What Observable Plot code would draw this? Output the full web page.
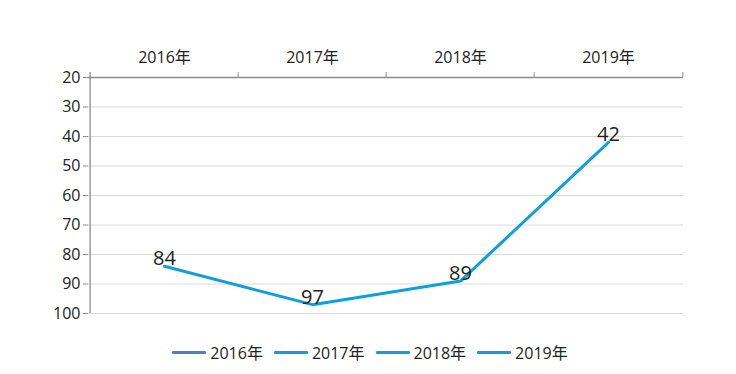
<!DOCTYPE html>
<html>
<head>
<meta charset="utf-8">
<script src="https://cdn.jsdelivr.net/npm/d3@7"></script>
<script src="https://cdn.jsdelivr.net/npm/@observablehq/plot@0.6"></script>
<style>
  body { margin: 0; background: #fff; font-family: "Open Sans", "Noto Sans CJK SC", sans-serif; }
  #chart svg { display: block; }
  .legend { display: flex; justify-content: center; align-items: center; gap: 11px; height: 44px; padding-left: 4px; box-sizing: border-box; font-size: 16px; color: #222; font-family: "Open Sans", "Noto Sans CJK SC", sans-serif; }
  .legend .item { display: flex; align-items: center; gap: 4px; }
  .legend .sw { width: 34px; height: 3px; border-radius: 1px; }
</style>
</head>
<body>
<div id="chart"></div>
<div class="legend" id="legend"></div>
<script>
const categories = ["2016年", "2017年", "2018年", "2019年"];
const values = [84, 97, 89, 42];
const yTicks = [20, 30, 40, 50, 60, 70, 80, 90, 100];
const legendLabels = ["2016年", "2017年", "2018年", "2019年"];
const legendColors = ["#4f7fc1", "#0fa0dc", "#0fa0dc", "#0fa0dc"];

const data = categories.map((c, i) => ({cat: c, value: values[i]}));

const W = 736, H = 330, mL = 88, mR = 53, mT = 77, mB = 17;
const step = (W - mL - mR) / categories.length;
const axisColor = "#8c8c8c";
const font = "'Open Sans', 'Noto Sans CJK SC', sans-serif";

const chart = Plot.plot({
  width: W,
  height: H,
  marginLeft: mL,
  marginRight: mR,
  marginTop: mT,
  marginBottom: mB,
  style: {fontFamily: font, background: "#fff"},
  x: {type: "band", domain: categories, padding: 0, axis: null, label: null},
  y: {domain: [20, 100], reverse: true, axis: null, label: null},
  marks: [
    Plot.gridY(yTicks.slice(1), {stroke: "#d9d9d9", strokeOpacity: 1}),
    Plot.axisX({anchor: "top", tickSize: 0, tickPadding: 15, fontSize: 16, fill: "#222", label: null}),
    Plot.axisY({ticks: yTicks, anchor: "left", tickSize: 5, tickPadding: 3, fontSize: 16, fill: "#222", stroke: axisColor, label: null}),
    Plot.ruleY([20], {stroke: axisColor, strokeWidth: 1.3}),
    Plot.ruleX([categories[0]], {x: d => d, y1: 20, y2: 100, dx: -step / 2, insetTop: -5, stroke: axisColor, strokeWidth: 1.3}),
    Plot.ruleX(categories.slice(1), {x: d => d, y1: 20, y2: 20, dx: -step / 2, insetTop: -5, stroke: axisColor}),
    Plot.ruleX(categories.slice(-1), {x: d => d, y1: 20, y2: 20, dx: step / 2, insetTop: -5, stroke: axisColor}),
    Plot.line(data, {x: "cat", y: "value", stroke: "#0fa0dc", strokeWidth: 3, strokeLinejoin: "round"}),
    Plot.text(data, {x: "cat", y: "value", text: d => String(d.value), lineAnchor: "bottom", dy: -1, fontSize: 20, fill: "#222"})
  ]
});
document.getElementById("chart").appendChild(chart);

const legend = document.getElementById("legend");
legendLabels.forEach((l, i) => {
  const it = document.createElement("div");
  it.className = "item";
  const sw = document.createElement("span");
  sw.className = "sw";
  sw.style.background = legendColors[i];
  const tx = document.createElement("span");
  tx.textContent = l;
  it.appendChild(sw);
  it.appendChild(tx);
  legend.appendChild(it);
});
</script>
</body>
</html>
